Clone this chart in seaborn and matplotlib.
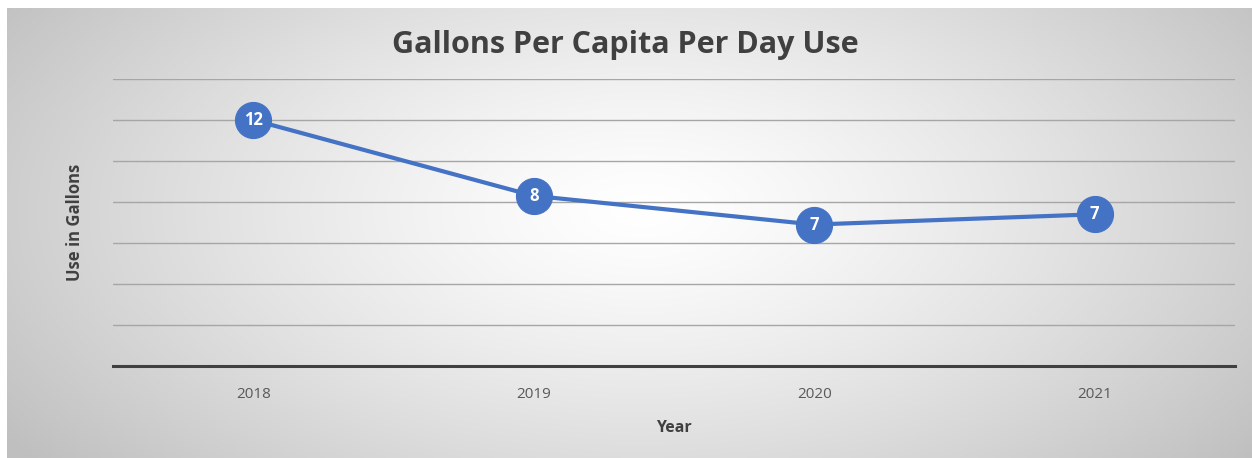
import numpy as np
import pandas as pd
import matplotlib
matplotlib.use("Agg")
import matplotlib.pyplot as plt
import seaborn as sns

years = ["2018", "2019", "2020", "2021"]
use_gallons = [12.0, 8.3, 6.9, 7.4]
y_ticks = [0, 2, 4, 6, 8, 10, 12, 14]

sns.set_theme(style="white")
plt.rcParams["font.family"] = ["Open Sans", "DejaVu Sans"]

W, H = 1252, 458
fig = plt.figure(figsize=(W / 100, H / 100), dpi=100)
fig.patch.set_facecolor("white")

# radial gradient background
bg = fig.add_axes([7 / W, 0, 1 - 7 / W, 1 - 8 / H])
bg.set_axis_off()
nx, ny = 600, 220
xx, yy = np.meshgrid(np.linspace(-1, 1, nx), np.linspace(-1, 1, ny))
r = np.sqrt(((xx - 0.02) * 1.0) ** 2 + ((yy + 0.1) * 0.7) ** 2)
g = 1.0 - 0.25 * np.clip(r / 1.25, 0, 1) ** 1.3
img = np.dstack([g, g, g])
bg.imshow(img, aspect="auto", extent=[0, 1, 0, 1], interpolation="bilinear")
bg.set_xlim(0, 1)
bg.set_ylim(0, 1)

ax = fig.add_axes([113 / W, 1 - 366 / H, (1235 - 113) / W, (366 - 79) / H])
ax.patch.set_alpha(0)

df = pd.DataFrame({"Year": years, "Use": use_gallons})
df["pos"] = range(len(years))

for t in y_ticks[1:]:
    ax.axhline(t, color="#a6a6a6", lw=1.0, zorder=1)

sns.lineplot(data=df, x="pos", y="Use", ax=ax, color="#4472C4", lw=3,
             marker="o", markersize=26, markeredgecolor="#4472C4",
             markerfacecolor="#4472C4", zorder=3)
for xp, v in zip(df["pos"], df["Use"]):
    ax.text(xp, v, f"{v:.0f}", ha="center", va="center", color="white",
            fontsize=12, fontweight="bold", zorder=4)

ax.set_xlim(-0.5, len(years) - 0.5)
ax.set_ylim(0, 14)
ax.set_xticks(list(df["pos"]))
ax.set_xticklabels(years, color="#595959", fontsize=11)
ax.set_yticks([])
ax.tick_params(axis="x", length=0, pad=15)
for s in ["top", "left", "right"]:
    ax.spines[s].set_visible(False)
ax.spines["bottom"].set_color("#404040")
ax.spines["bottom"].set_linewidth(2.2)
ax.set_xlabel("Year", color="#404040", fontsize=11.5, fontweight="bold", labelpad=13)
ax.set_ylabel("")

fig.text(75 / W, 1 - 222 / H, "Use in Gallons", rotation=90, ha="center", va="center",
         color="#404040", fontsize=12, fontweight="bold")
fig.text(625 / W, 1 - 45 / H, "Gallons Per Capita Per Day Use", ha="center", va="center",
         color="#404040", fontsize=22, fontweight="bold")

fig.savefig("out.png", dpi=100)
